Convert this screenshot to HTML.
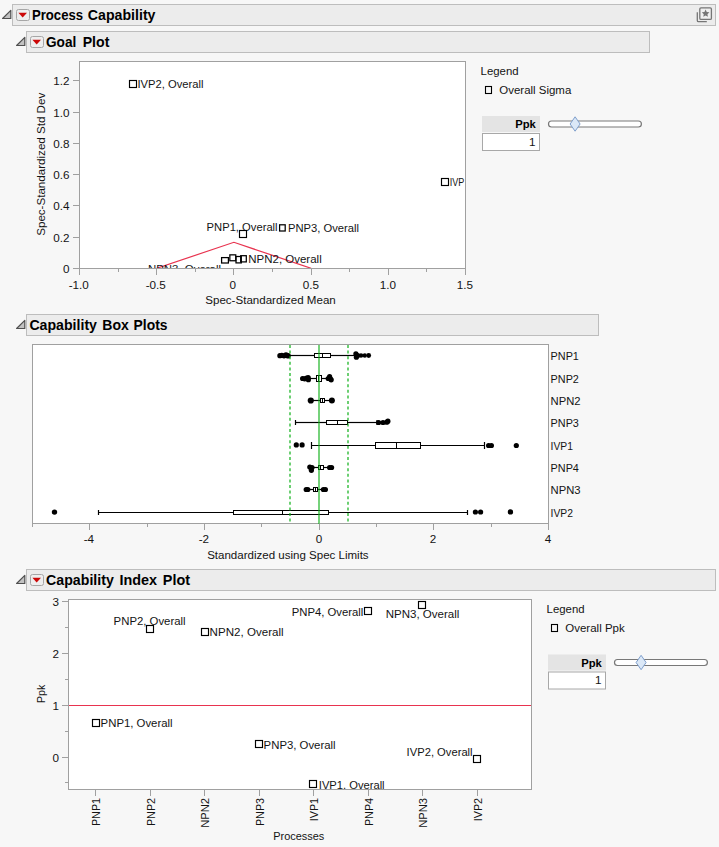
<!DOCTYPE html>
<html><head><meta charset="utf-8"><title>Process Capability</title>
<style>
html,body{margin:0;padding:0;background:#f7f7f7;}
svg{display:block;font-family:"Liberation Sans",sans-serif;fill:#141414;}
</style></head><body>
<svg width="719" height="847" viewBox="0 0 719 847">
<rect x="0" y="0" width="719" height="847" fill="#f7f7f7"/>
<rect x="12.5" y="4.5" width="703" height="21" fill="#ececec" stroke="#bdbdbd" stroke-width="1"/>
<path d="M2.6000000000000014 18.5 L10.8 18.5 L10.8 10.3 Z" fill="#c2c2c2" stroke="#505050" stroke-width="1.2" stroke-linejoin="round"/>
<rect x="16.5" y="9.5" width="13" height="11" rx="2" ry="2" fill="#eeeeee" stroke="#a6a6a6" stroke-width="1"/>
<path d="M18.4 12.8 L27.0 12.8 L22.7 17.4 Z" fill="#cc0808"/>
<text x="31.9" y="19.8" font-size="14.2" textLength="51.2" lengthAdjust="spacingAndGlyphs" font-weight="bold" fill="#000">Process</text>
<text x="87.8" y="19.8" font-size="14.2" textLength="67.7" lengthAdjust="spacingAndGlyphs" font-weight="bold" fill="#000">Capability</text>
<path d="M697.3 12.2 V20.5 Q697.3 21.7 698.5 21.7 H706.8" fill="none" stroke="#767676" stroke-width="1.3"/>
<rect x="699.8" y="7.8" width="11.6" height="11.6" rx="1.2" ry="1.2" fill="#efefef" stroke="#767676" stroke-width="1.3"/>
<polygon points="705.60,9.60 706.75,12.02 709.40,12.36 707.45,14.20 707.95,16.84 705.60,15.55 703.25,16.84 703.75,14.20 701.80,12.36 704.45,12.02" fill="#767676"/>
<rect x="26.5" y="31.5" width="623" height="21" fill="#ececec" stroke="#bdbdbd" stroke-width="1"/>
<path d="M16.6 45.5 L24.8 45.5 L24.8 37.3 Z" fill="#c2c2c2" stroke="#505050" stroke-width="1.2" stroke-linejoin="round"/>
<rect x="30.5" y="36.5" width="13" height="11" rx="2" ry="2" fill="#eeeeee" stroke="#a6a6a6" stroke-width="1"/>
<path d="M32.4 39.8 L41.0 39.8 L36.7 44.4 Z" fill="#cc0808"/>
<text x="46.0" y="46.8" font-size="14.2" textLength="30.3" lengthAdjust="spacingAndGlyphs" font-weight="bold" fill="#000">Goal</text>
<text x="82.7" y="46.8" font-size="14.2" textLength="26.7" lengthAdjust="spacingAndGlyphs" font-weight="bold" fill="#000">Plot</text>
<rect x="79.5" y="61.5" width="386.0" height="207.0" fill="#fff"/>
<clipPath id="cg"><rect x="80.0" y="62.0" width="385.0" height="206.0"/></clipPath>
<g clip-path="url(#cg)">
<path d="M156.7 268.3 L233.9 242.3 L311.1 268.3" fill="none" stroke="#e8334f" stroke-width="1.2"/>
<text x="137.5" y="88" font-size="11.7" textLength="66" lengthAdjust="spacingAndGlyphs">IVP2, Overall</text>
<text x="449.8" y="185.8" font-size="11.7" textLength="14.6" lengthAdjust="spacingAndGlyphs">IVP</text>
<text x="206.6" y="230.9" font-size="11.7" textLength="71" lengthAdjust="spacingAndGlyphs">PNP1, Overall</text>
<text x="288" y="232" font-size="11.7" textLength="71" lengthAdjust="spacingAndGlyphs">PNP3, Overall</text>
<text x="248.3" y="263" font-size="11.7" textLength="73.4" lengthAdjust="spacingAndGlyphs">NPN2, Overall</text>
<text x="148" y="272.7" font-size="11.7" textLength="73" lengthAdjust="spacingAndGlyphs">NPN3, Overall</text>
<rect x="129.5" y="80.5" width="7" height="7" fill="none" stroke="#000" stroke-width="1.15"/>
<rect x="441.5" y="178.5" width="7" height="7" fill="none" stroke="#000" stroke-width="1.15"/>
<rect x="239.5" y="230.5" width="7" height="7" fill="none" stroke="#000" stroke-width="1.15"/>
<rect x="279.6" y="224.8" width="5.6" height="6.2" fill="none" stroke="#000" stroke-width="1.25"/>
<rect x="240.7" y="255.7" width="5.6" height="6.2" fill="none" stroke="#000" stroke-width="1.25"/>
<rect x="236.0" y="256.5" width="5.3" height="6.4" fill="none" stroke="#000" stroke-width="1.25"/>
<rect x="229.85" y="254.85" width="5.9" height="5.9" fill="none" stroke="#000" stroke-width="1.25"/>
<rect x="221.6" y="257.6" width="6.8" height="5.4" fill="none" stroke="#000" stroke-width="1.25"/>
</g>
<rect x="79.5" y="61.5" width="386.0" height="207.0" fill="none" stroke="#a0a0a0" stroke-width="1"/>
<line x1="73" y1="268.5" x2="79.5" y2="268.5" stroke="#a0a0a0" stroke-width="1"/>
<text x="69.6" y="273.0" font-size="11.7" text-anchor="end">0</text>
<line x1="73" y1="237.5" x2="79.5" y2="237.5" stroke="#a0a0a0" stroke-width="1"/>
<text x="69.6" y="242.0" font-size="11.7" text-anchor="end">0.2</text>
<line x1="73" y1="205.5" x2="79.5" y2="205.5" stroke="#a0a0a0" stroke-width="1"/>
<text x="69.6" y="210.0" font-size="11.7" text-anchor="end">0.4</text>
<line x1="73" y1="174.5" x2="79.5" y2="174.5" stroke="#a0a0a0" stroke-width="1"/>
<text x="69.6" y="179.0" font-size="11.7" text-anchor="end">0.6</text>
<line x1="73" y1="143.5" x2="79.5" y2="143.5" stroke="#a0a0a0" stroke-width="1"/>
<text x="69.6" y="148.0" font-size="11.7" text-anchor="end">0.8</text>
<line x1="73" y1="112.5" x2="79.5" y2="112.5" stroke="#a0a0a0" stroke-width="1"/>
<text x="69.6" y="117.0" font-size="11.7" text-anchor="end">1.0</text>
<line x1="73" y1="80.5" x2="79.5" y2="80.5" stroke="#a0a0a0" stroke-width="1"/>
<text x="69.6" y="85.0" font-size="11.7" text-anchor="end">1.2</text>
<line x1="79.5" y1="268.5" x2="79.5" y2="275" stroke="#a0a0a0" stroke-width="1"/>
<text x="78.8" y="288.6" font-size="11.7" text-anchor="middle">-1.0</text>
<line x1="118.5" y1="268.5" x2="118.5" y2="272" stroke="#a0a0a0" stroke-width="1"/>
<line x1="156.5" y1="268.5" x2="156.5" y2="275" stroke="#a0a0a0" stroke-width="1"/>
<text x="155.8" y="288.6" font-size="11.7" text-anchor="middle">-0.5</text>
<line x1="195.5" y1="268.5" x2="195.5" y2="272" stroke="#a0a0a0" stroke-width="1"/>
<line x1="233.5" y1="268.5" x2="233.5" y2="275" stroke="#a0a0a0" stroke-width="1"/>
<text x="232.8" y="288.6" font-size="11.7" text-anchor="middle">0</text>
<line x1="272.5" y1="268.5" x2="272.5" y2="272" stroke="#a0a0a0" stroke-width="1"/>
<line x1="311.5" y1="268.5" x2="311.5" y2="275" stroke="#a0a0a0" stroke-width="1"/>
<text x="310.8" y="288.6" font-size="11.7" text-anchor="middle">0.5</text>
<line x1="349.5" y1="268.5" x2="349.5" y2="272" stroke="#a0a0a0" stroke-width="1"/>
<line x1="388.5" y1="268.5" x2="388.5" y2="275" stroke="#a0a0a0" stroke-width="1"/>
<text x="387.8" y="288.6" font-size="11.7" text-anchor="middle">1.0</text>
<line x1="426.5" y1="268.5" x2="426.5" y2="272" stroke="#a0a0a0" stroke-width="1"/>
<line x1="465.5" y1="268.5" x2="465.5" y2="275" stroke="#a0a0a0" stroke-width="1"/>
<text x="464.8" y="288.6" font-size="11.7" text-anchor="middle">1.5</text>
<text x="270.5" y="304" font-size="11.7" text-anchor="middle" textLength="130.5" lengthAdjust="spacingAndGlyphs">Spec-Standardized Mean</text>
<text x="44.8" y="164.3" font-size="11.7" text-anchor="middle" textLength="143" lengthAdjust="spacingAndGlyphs" transform="rotate(-90 44.8 164.3)">Spec-Standardized Std Dev</text>
<text x="480.6" y="75.1" font-size="11.7" textLength="38" lengthAdjust="spacingAndGlyphs">Legend</text>
<rect x="485.5" y="86.5" width="6" height="7" fill="none" stroke="#000" stroke-width="1.1"/>
<text x="499.3" y="93.8" font-size="11.7" textLength="72" lengthAdjust="spacingAndGlyphs">Overall Sigma</text>
<rect x="482" y="116" width="58" height="16" fill="#e4e4e4"/>
<text x="535.8" y="128" font-size="11.6" text-anchor="end" textLength="20.6" lengthAdjust="spacingAndGlyphs" font-weight="bold" fill="#000">Ppk</text>
<rect x="482.5" y="133.5" width="57" height="17" fill="#fff" stroke="#a8a8a8" stroke-width="1"/>
<text x="535.5" y="145.5" font-size="11.7" text-anchor="end">1</text>
<rect x="548.5" y="121" width="92.9" height="6" rx="3" ry="3" fill="#fff" stroke="#787878" stroke-width="1.2"/>
<path d="M575.1 116.8 L580.1 124 L575.1 131.2 L570.1 124 Z" fill="#dbe8f7" stroke="#7f9fcc" stroke-width="1"/>
<rect x="26.5" y="314.5" width="572" height="21" fill="#ececec" stroke="#bdbdbd" stroke-width="1"/>
<path d="M16.6 328.5 L24.8 328.5 L24.8 320.3 Z" fill="#c2c2c2" stroke="#505050" stroke-width="1.2" stroke-linejoin="round"/>
<text x="29.4" y="329.8" font-size="14.2" textLength="67.6" lengthAdjust="spacingAndGlyphs" font-weight="bold" fill="#000">Capability</text>
<text x="102.3" y="329.8" font-size="14.2" textLength="26.5" lengthAdjust="spacingAndGlyphs" font-weight="bold" fill="#000">Box</text>
<text x="133.6" y="329.8" font-size="14.2" textLength="33.9" lengthAdjust="spacingAndGlyphs" font-weight="bold" fill="#000">Plots</text>
<rect x="32.5" y="344.5" width="516.0" height="179.0" fill="#fff"/>
<line x1="290" y1="355.5" x2="314.5" y2="355.5" stroke="#000" stroke-width="1.2"/>
<line x1="330.5" y1="355.5" x2="355.5" y2="355.5" stroke="#000" stroke-width="1.2"/>
<rect x="314.5" y="353.50" width="16.00" height="4" fill="#fff" stroke="#000" stroke-width="1"/>
<line x1="322.5" y1="353.50" x2="322.5" y2="357.50" stroke="#000" stroke-width="1"/>
<circle cx="279.9" cy="355.70" r="2.6" fill="#000"/>
<circle cx="281.8" cy="355.30" r="2.6" fill="#000"/>
<circle cx="284" cy="355.80" r="2.6" fill="#000"/>
<circle cx="286" cy="355.10" r="2.8000000000000003" fill="#000"/>
<circle cx="288" cy="355.70" r="2.8000000000000003" fill="#000"/>
<circle cx="355.9" cy="353.80" r="2.6" fill="#000"/>
<circle cx="356.4" cy="357.20" r="2.6" fill="#000"/>
<circle cx="357.6" cy="355.50" r="2.6" fill="#000"/>
<circle cx="361" cy="355.50" r="2.3" fill="#000"/>
<circle cx="364.8" cy="355.50" r="2.2" fill="#000"/>
<circle cx="368.7" cy="355.50" r="2.4" fill="#000"/>
<line x1="308" y1="378.5" x2="316.5" y2="378.5" stroke="#000" stroke-width="1.2"/>
<line x1="321.5" y1="378.5" x2="329" y2="378.5" stroke="#000" stroke-width="1.2"/>
<rect x="316.5" y="375.50" width="5.00" height="6" fill="#fff" stroke="#000" stroke-width="1"/>
<line x1="318.5" y1="375.50" x2="318.5" y2="381.50" stroke="#000" stroke-width="1"/>
<circle cx="302.6" cy="378.50" r="2.6" fill="#000"/>
<circle cx="304.6" cy="378.80" r="2.6" fill="#000"/>
<circle cx="306.6" cy="378.20" r="2.6" fill="#000"/>
<circle cx="308.2" cy="377.50" r="2.6" fill="#000"/>
<circle cx="308.4" cy="379.70" r="2.6" fill="#000"/>
<circle cx="328.2" cy="378.50" r="2.6" fill="#000"/>
<circle cx="329.6" cy="376.70" r="2.6" fill="#000"/>
<circle cx="330.6" cy="379.10" r="2.6" fill="#000"/>
<circle cx="331.2" cy="379.80" r="2.6" fill="#000"/>
<line x1="311" y1="400.5" x2="320.5" y2="400.5" stroke="#000" stroke-width="1.2"/>
<line x1="324.5" y1="400.5" x2="332" y2="400.5" stroke="#000" stroke-width="1.2"/>
<rect x="320.5" y="398.50" width="4.00" height="4" fill="#fff" stroke="#000" stroke-width="1"/>
<line x1="322.5" y1="398.50" x2="322.5" y2="402.50" stroke="#000" stroke-width="1"/>
<circle cx="310.8" cy="400.50" r="3.1" fill="#000"/>
<circle cx="331.9" cy="400.50" r="3.0" fill="#000"/>
<line x1="295.5" y1="422.5" x2="326.5" y2="422.5" stroke="#000" stroke-width="1.2"/>
<line x1="347.5" y1="422.5" x2="377" y2="422.5" stroke="#000" stroke-width="1.2"/>
<line x1="295.5" y1="420.0" x2="295.5" y2="425.0" stroke="#000" stroke-width="1.2"/>
<line x1="377" y1="420.0" x2="377" y2="425.0" stroke="#000" stroke-width="1.2"/>
<rect x="326.5" y="420.50" width="21.00" height="4" fill="#fff" stroke="#000" stroke-width="1"/>
<line x1="337.5" y1="420.50" x2="337.5" y2="424.50" stroke="#000" stroke-width="1"/>
<circle cx="378.6" cy="422.50" r="2.6" fill="#000"/>
<circle cx="383" cy="422.50" r="2.6" fill="#000"/>
<circle cx="386.8" cy="422.20" r="2.6" fill="#000"/>
<circle cx="387.9" cy="421.20" r="2.6" fill="#000"/>
<line x1="311.5" y1="445.5" x2="375.5" y2="445.5" stroke="#000" stroke-width="1.2"/>
<line x1="420.5" y1="445.5" x2="484.5" y2="445.5" stroke="#000" stroke-width="1.2"/>
<line x1="311.5" y1="442.0" x2="311.5" y2="449.0" stroke="#000" stroke-width="1.2"/>
<line x1="484.5" y1="442.0" x2="484.5" y2="449.0" stroke="#000" stroke-width="1.2"/>
<rect x="375.5" y="442.50" width="45.00" height="6" fill="#fff" stroke="#000" stroke-width="1"/>
<line x1="396.5" y1="442.50" x2="396.5" y2="448.50" stroke="#000" stroke-width="1"/>
<circle cx="296.3" cy="444.90" r="2.6" fill="#000"/>
<circle cx="302.1" cy="444.90" r="2.6" fill="#000"/>
<circle cx="488.6" cy="445.50" r="2.6" fill="#000"/>
<circle cx="491.4" cy="445.50" r="2.6" fill="#000"/>
<circle cx="516.3" cy="445.50" r="2.6" fill="#000"/>
<line x1="312" y1="467.5" x2="318.5" y2="467.5" stroke="#000" stroke-width="1.2"/>
<line x1="323.5" y1="467.5" x2="331" y2="467.5" stroke="#000" stroke-width="1.2"/>
<rect x="318.5" y="465.50" width="5.00" height="4" fill="#fff" stroke="#000" stroke-width="1"/>
<line x1="320.5" y1="465.50" x2="320.5" y2="469.50" stroke="#000" stroke-width="1"/>
<circle cx="309.8" cy="467.10" r="2.6" fill="#000"/>
<circle cx="312" cy="467.50" r="2.6" fill="#000"/>
<circle cx="311.4" cy="470.30" r="2.6" fill="#000"/>
<circle cx="329.6" cy="467.50" r="2.6" fill="#000"/>
<circle cx="331.6" cy="467.50" r="2.6" fill="#000"/>
<line x1="305" y1="489.5" x2="313.5" y2="489.5" stroke="#000" stroke-width="1.2"/>
<line x1="317.5" y1="489.5" x2="326" y2="489.5" stroke="#000" stroke-width="1.2"/>
<rect x="313.5" y="487.50" width="4.00" height="4" fill="#fff" stroke="#000" stroke-width="1"/>
<line x1="315.5" y1="487.50" x2="315.5" y2="491.50" stroke="#000" stroke-width="1"/>
<circle cx="306.2" cy="489.50" r="2.6" fill="#000"/>
<circle cx="307.8" cy="489.50" r="2.6" fill="#000"/>
<circle cx="323.4" cy="489.50" r="2.6" fill="#000"/>
<circle cx="325.4" cy="489.50" r="2.6" fill="#000"/>
<line x1="98.5" y1="512.5" x2="233.5" y2="512.5" stroke="#000" stroke-width="1.2"/>
<line x1="328.5" y1="512.5" x2="467.5" y2="512.5" stroke="#000" stroke-width="1.2"/>
<line x1="98.5" y1="510.0" x2="98.5" y2="515.0" stroke="#000" stroke-width="1.2"/>
<line x1="467.5" y1="510.0" x2="467.5" y2="515.0" stroke="#000" stroke-width="1.2"/>
<rect x="233.5" y="510.50" width="95.00" height="4" fill="#fff" stroke="#000" stroke-width="1"/>
<line x1="282.5" y1="510.50" x2="282.5" y2="514.50" stroke="#000" stroke-width="1"/>
<circle cx="54.5" cy="512.10" r="2.7" fill="#000"/>
<circle cx="475.4" cy="512.00" r="2.6" fill="#000"/>
<circle cx="480.6" cy="512.00" r="2.6" fill="#000"/>
<circle cx="510.4" cy="511.90" r="2.7" fill="#000"/>
<rect x="32.5" y="344.5" width="516.0" height="179.0" fill="none" stroke="#a0a0a0" stroke-width="1"/>
<line x1="319" y1="345.0" x2="319" y2="524.1" stroke="#0aaf14" stroke-opacity="0.56" stroke-width="2"/>
<line x1="290.0" y1="345.0" x2="290.0" y2="523.0" stroke="#0aaf14" stroke-opacity="0.6" stroke-width="2" stroke-dasharray="3 2.6"/>
<line x1="348.0" y1="345.0" x2="348.0" y2="523.0" stroke="#0aaf14" stroke-opacity="0.6" stroke-width="2" stroke-dasharray="3 2.6"/>
<line x1="32.5" y1="523.5" x2="32.5" y2="527" stroke="#a0a0a0" stroke-width="1"/>
<line x1="89.5" y1="523.5" x2="89.5" y2="530" stroke="#a0a0a0" stroke-width="1"/>
<text x="88.9" y="542.8" font-size="11.7" text-anchor="middle">-4</text>
<line x1="147.5" y1="523.5" x2="147.5" y2="527" stroke="#a0a0a0" stroke-width="1"/>
<line x1="204.5" y1="523.5" x2="204.5" y2="530" stroke="#a0a0a0" stroke-width="1"/>
<text x="203.9" y="542.8" font-size="11.7" text-anchor="middle">-2</text>
<line x1="261.5" y1="523.5" x2="261.5" y2="527" stroke="#a0a0a0" stroke-width="1"/>
<line x1="319.5" y1="523.5" x2="319.5" y2="530" stroke="#a0a0a0" stroke-width="1"/>
<text x="319.1" y="542.8" font-size="11.7" text-anchor="middle">0</text>
<line x1="376.5" y1="523.5" x2="376.5" y2="527" stroke="#a0a0a0" stroke-width="1"/>
<line x1="433.5" y1="523.5" x2="433.5" y2="530" stroke="#a0a0a0" stroke-width="1"/>
<text x="433.1" y="542.8" font-size="11.7" text-anchor="middle">2</text>
<line x1="491.5" y1="523.5" x2="491.5" y2="527" stroke="#a0a0a0" stroke-width="1"/>
<line x1="548.5" y1="523.5" x2="548.5" y2="530" stroke="#a0a0a0" stroke-width="1"/>
<text x="548.1" y="542.8" font-size="11.7" text-anchor="middle">4</text>
<text x="287.9" y="558.6" font-size="11.7" text-anchor="middle" textLength="161.5" lengthAdjust="spacingAndGlyphs">Standardized using Spec Limits</text>
<text x="550.6" y="359.9" font-size="11.7" textLength="28.3" lengthAdjust="spacingAndGlyphs">PNP1</text>
<text x="550.6" y="382.9" font-size="11.7" textLength="28.3" lengthAdjust="spacingAndGlyphs">PNP2</text>
<text x="550.6" y="404.9" font-size="11.7" textLength="30.0" lengthAdjust="spacingAndGlyphs">NPN2</text>
<text x="550.6" y="426.9" font-size="11.7" textLength="28.3" lengthAdjust="spacingAndGlyphs">PNP3</text>
<text x="550.6" y="449.9" font-size="11.7" textLength="22.4" lengthAdjust="spacingAndGlyphs">IVP1</text>
<text x="550.6" y="471.9" font-size="11.7" textLength="28.3" lengthAdjust="spacingAndGlyphs">PNP4</text>
<text x="550.6" y="493.9" font-size="11.7" textLength="30.0" lengthAdjust="spacingAndGlyphs">NPN3</text>
<text x="550.6" y="516.9" font-size="11.7" textLength="22.4" lengthAdjust="spacingAndGlyphs">IVP2</text>
<rect x="26.5" y="569.5" width="689" height="21" fill="#ececec" stroke="#bdbdbd" stroke-width="1"/>
<path d="M16.6 583.5 L24.8 583.5 L24.8 575.3 Z" fill="#c2c2c2" stroke="#505050" stroke-width="1.2" stroke-linejoin="round"/>
<rect x="30.5" y="574.5" width="13" height="11" rx="2" ry="2" fill="#eeeeee" stroke="#a6a6a6" stroke-width="1"/>
<path d="M32.4 577.8 L41.0 577.8 L36.7 582.4 Z" fill="#cc0808"/>
<text x="46.1" y="584.8" font-size="14.2" textLength="67.7" lengthAdjust="spacingAndGlyphs" font-weight="bold" fill="#000">Capability</text>
<text x="119.4" y="584.8" font-size="14.2" textLength="37.6" lengthAdjust="spacingAndGlyphs" font-weight="bold" fill="#000">Index</text>
<text x="162.8" y="584.8" font-size="14.2" textLength="27.2" lengthAdjust="spacingAndGlyphs" font-weight="bold" fill="#000">Plot</text>
<rect x="68.5" y="599.5" width="463.0" height="190.0" fill="#fff"/>
<clipPath id="ci"><rect x="69.0" y="600.0" width="462.0" height="189.0"/></clipPath>
<g clip-path="url(#ci)">
<line x1="68.5" y1="705.5" x2="531.5" y2="705.5" stroke="#e8334f" stroke-width="1.2"/>
<text x="100.6" y="726.8" font-size="11.7" textLength="72" lengthAdjust="spacingAndGlyphs">PNP1, Overall</text>
<text x="113.6" y="624.8" font-size="11.7" textLength="72" lengthAdjust="spacingAndGlyphs">PNP2, Overall</text>
<text x="209.6" y="636.2" font-size="11.7" textLength="74" lengthAdjust="spacingAndGlyphs">NPN2, Overall</text>
<text x="263.6" y="748.7" font-size="11.7" textLength="72" lengthAdjust="spacingAndGlyphs">PNP3, Overall</text>
<text x="318.8" y="788.6" font-size="11.7" textLength="65.8" lengthAdjust="spacingAndGlyphs">IVP1, Overall</text>
<text x="291.7" y="615.9" font-size="11.7" textLength="71.7" lengthAdjust="spacingAndGlyphs">PNP4, Overall</text>
<text x="385.7" y="618.4" font-size="11.7" textLength="73.7" lengthAdjust="spacingAndGlyphs">NPN3, Overall</text>
<text x="406.6" y="755.7" font-size="11.7" textLength="66" lengthAdjust="spacingAndGlyphs">IVP2, Overall</text>
<rect x="92.5" y="719.5" width="7" height="7" fill="none" stroke="#000" stroke-width="1.15"/>
<rect x="146.5" y="625.5" width="7" height="7" fill="none" stroke="#000" stroke-width="1.15"/>
<rect x="201.5" y="628.5" width="7" height="7" fill="none" stroke="#000" stroke-width="1.15"/>
<rect x="255.5" y="740.5" width="7" height="7" fill="none" stroke="#000" stroke-width="1.15"/>
<rect x="309.5" y="780.5" width="7" height="7" fill="none" stroke="#000" stroke-width="1.15"/>
<rect x="364.5" y="607.5" width="7" height="7" fill="none" stroke="#000" stroke-width="1.15"/>
<rect x="418.5" y="601.5" width="7" height="7" fill="none" stroke="#000" stroke-width="1.15"/>
<rect x="473.5" y="755.5" width="7" height="7" fill="none" stroke="#000" stroke-width="1.15"/>
</g>
<rect x="68.5" y="599.5" width="463.0" height="190.0" fill="none" stroke="#a0a0a0" stroke-width="1"/>
<line x1="65" y1="782.5" x2="68.5" y2="782.5" stroke="#a0a0a0" stroke-width="1"/>
<line x1="62" y1="757.5" x2="68.5" y2="757.5" stroke="#a0a0a0" stroke-width="1"/>
<text x="58.9" y="761.9" font-size="11.7" text-anchor="end">0</text>
<line x1="65" y1="731.5" x2="68.5" y2="731.5" stroke="#a0a0a0" stroke-width="1"/>
<line x1="62" y1="705.5" x2="68.5" y2="705.5" stroke="#a0a0a0" stroke-width="1"/>
<text x="58.9" y="709.9" font-size="11.7" text-anchor="end">1</text>
<line x1="65" y1="679.5" x2="68.5" y2="679.5" stroke="#a0a0a0" stroke-width="1"/>
<line x1="62" y1="653.5" x2="68.5" y2="653.5" stroke="#a0a0a0" stroke-width="1"/>
<text x="58.9" y="657.9" font-size="11.7" text-anchor="end">2</text>
<line x1="65" y1="627.5" x2="68.5" y2="627.5" stroke="#a0a0a0" stroke-width="1"/>
<line x1="62" y1="601.5" x2="68.5" y2="601.5" stroke="#a0a0a0" stroke-width="1"/>
<text x="58.9" y="605.9" font-size="11.7" text-anchor="end">3</text>
<text x="44.8" y="693.8" font-size="11.7" text-anchor="middle" textLength="18.3" lengthAdjust="spacingAndGlyphs" transform="rotate(-90 44.8 693.8)">Ppk</text>
<line x1="95.5" y1="789.5" x2="95.5" y2="796" stroke="#a0a0a0" stroke-width="1"/>
<text x="100.0" y="797.9" font-size="11.7" text-anchor="end" textLength="28.2" lengthAdjust="spacingAndGlyphs" transform="rotate(-90 100.0 797.9)">PNP1</text>
<line x1="150.5" y1="789.5" x2="150.5" y2="796" stroke="#a0a0a0" stroke-width="1"/>
<text x="155.0" y="797.9" font-size="11.7" text-anchor="end" textLength="28.2" lengthAdjust="spacingAndGlyphs" transform="rotate(-90 155.0 797.9)">PNP2</text>
<line x1="204.5" y1="789.5" x2="204.5" y2="796" stroke="#a0a0a0" stroke-width="1"/>
<text x="209.0" y="797.9" font-size="11.7" text-anchor="end" textLength="29.8" lengthAdjust="spacingAndGlyphs" transform="rotate(-90 209.0 797.9)">NPN2</text>
<line x1="259.5" y1="789.5" x2="259.5" y2="796" stroke="#a0a0a0" stroke-width="1"/>
<text x="264.0" y="797.9" font-size="11.7" text-anchor="end" textLength="28.2" lengthAdjust="spacingAndGlyphs" transform="rotate(-90 264.0 797.9)">PNP3</text>
<line x1="313.5" y1="789.5" x2="313.5" y2="796" stroke="#a0a0a0" stroke-width="1"/>
<text x="318.0" y="797.9" font-size="11.7" text-anchor="end" textLength="23.4" lengthAdjust="spacingAndGlyphs" transform="rotate(-90 318.0 797.9)">IVP1</text>
<line x1="368.5" y1="789.5" x2="368.5" y2="796" stroke="#a0a0a0" stroke-width="1"/>
<text x="373.0" y="797.9" font-size="11.7" text-anchor="end" textLength="28.2" lengthAdjust="spacingAndGlyphs" transform="rotate(-90 373.0 797.9)">PNP4</text>
<line x1="422.5" y1="789.5" x2="422.5" y2="796" stroke="#a0a0a0" stroke-width="1"/>
<text x="427.0" y="797.9" font-size="11.7" text-anchor="end" textLength="29.8" lengthAdjust="spacingAndGlyphs" transform="rotate(-90 427.0 797.9)">NPN3</text>
<line x1="477.5" y1="789.5" x2="477.5" y2="796" stroke="#a0a0a0" stroke-width="1"/>
<text x="482.0" y="797.9" font-size="11.7" text-anchor="end" textLength="23.4" lengthAdjust="spacingAndGlyphs" transform="rotate(-90 482.0 797.9)">IVP2</text>
<text x="298.8" y="839.6" font-size="11.7" text-anchor="middle" textLength="51" lengthAdjust="spacingAndGlyphs">Processes</text>
<text x="546.6" y="613" font-size="11.7" textLength="38" lengthAdjust="spacingAndGlyphs">Legend</text>
<rect x="551.5" y="624.5" width="6" height="7" fill="none" stroke="#000" stroke-width="1.1"/>
<text x="565.3000000000001" y="631.7" font-size="11.7" textLength="59.4" lengthAdjust="spacingAndGlyphs">Overall Ppk</text>
<rect x="548" y="654.5" width="58" height="16" fill="#e4e4e4"/>
<text x="601.8" y="666.5" font-size="11.6" text-anchor="end" textLength="20.6" lengthAdjust="spacingAndGlyphs" font-weight="bold" fill="#000">Ppk</text>
<rect x="548.5" y="672.0" width="57" height="17" fill="#fff" stroke="#a8a8a8" stroke-width="1"/>
<text x="601.5" y="684.0" font-size="11.7" text-anchor="end">1</text>
<rect x="614.5" y="659.5" width="92.9" height="6" rx="3" ry="3" fill="#fff" stroke="#787878" stroke-width="1.2"/>
<path d="M641.1 655.3 L646.1 662.5 L641.1 669.7 L636.1 662.5 Z" fill="#dbe8f7" stroke="#7f9fcc" stroke-width="1"/>
</svg></body></html>
